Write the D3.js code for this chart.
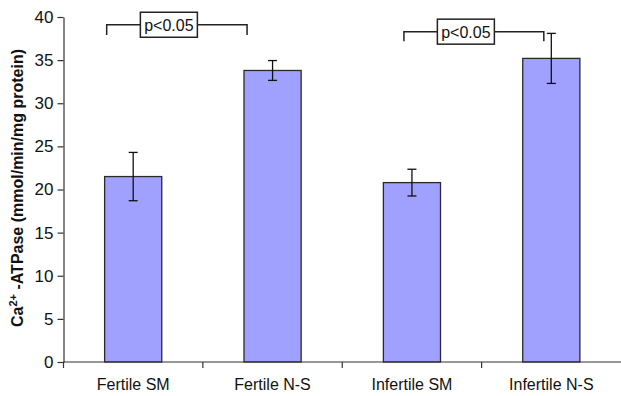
<!DOCTYPE html>
<html>
<head>
<meta charset="utf-8">
<script src="https://cdn.jsdelivr.net/npm/d3@7"></script>
<style>
  html, body { margin: 0; padding: 0; background: #fff; }
  svg { display: block; font-family: "Liberation Sans", Arial, Helvetica, sans-serif; }
</style>
</head>
<body>
<svg id="chart" width="621" height="396"></svg>
<script>
// ---- data ----
const categories = ["Fertile SM", "Fertile N-S", "Infertile SM", "Infertile N-S"];
const means = [21.5, 33.8, 20.8, 35.2];
const errors = [2.8, 1.15, 1.55, 2.9];
const yTicks = [0, 5, 10, 15, 20, 25, 30, 35, 40];
const sigLabels = ["p<0.05", "p<0.05"];
const sigFrom = [0, 2];
const sigTo = [1, 3];
const sigTop = [39.1, 38.3];
const sigLeg = [37.9, 37.2];

(function () {
// ---- layout ----
const mLeft = 63.5, mRight = 621, mTop = 17, mBottom = 362;
const svg = d3.select("#chart");

const y = d3.scaleLinear().domain([0, 40]).range([mBottom, mTop]);
const x = d3.scaleBand().domain(categories).range([mLeft, mRight]).padding(0);
const barW = x.bandwidth() * 0.41;
const cx = d => x(d) + x.bandwidth() / 2;

const axisColor = "#333";

// bars
svg.append("g").selectAll("rect").data(categories).join("rect")
  .attr("x", d => cx(d) - barW / 2)
  .attr("y", (d, i) => y(means[i]))
  .attr("width", barW)
  .attr("height", (d, i) => y(0) - y(means[i]))
  .attr("fill", "#a0a0ff")
  .attr("stroke", "#2a2a2a")
  .attr("stroke-width", 1.3);

// error bars
const eb = svg.append("g").attr("stroke", "#111").attr("stroke-width", 1.3);
categories.forEach((c, i) => {
  const xc = cx(c), hi = y(means[i] + errors[i]), lo = y(means[i] - errors[i]);
  eb.append("line").attr("x1", xc).attr("x2", xc).attr("y1", hi).attr("y2", lo);
  eb.append("line").attr("x1", xc - 4.5).attr("x2", xc + 4.5).attr("y1", hi).attr("y2", hi);
  eb.append("line").attr("x1", xc - 4.5).attr("x2", xc + 4.5).attr("y1", lo).attr("y2", lo);
});

// y axis
const yAxis = svg.append("g")
  .attr("transform", `translate(${mLeft},0)`)
  .call(d3.axisLeft(y).tickValues(yTicks).tickSize(6).tickPadding(4).tickSizeOuter(0));
yAxis.select(".domain").attr("stroke", axisColor).attr("stroke-width", 1.2);
yAxis.selectAll(".tick line").attr("stroke", axisColor).attr("stroke-width", 1.2);
yAxis.selectAll(".tick text").attr("font-size", 17).attr("fill", "#111")
  .style("font-family", "'Liberation Sans', Arial, sans-serif");

// x axis: boundary ticks + centered labels
const xAxisG = svg.append("g").attr("transform", `translate(0,${mBottom})`);
xAxisG.append("line").attr("x1", mLeft).attr("x2", mRight).attr("y1", 0).attr("y2", 0)
  .attr("stroke", axisColor).attr("stroke-width", 1.2);
const bounds = categories.map(c => x(c));
xAxisG.selectAll("line.tk").data(bounds).join("line").attr("class", "tk")
  .attr("x1", d => d).attr("x2", d => d).attr("y1", 0).attr("y2", 6)
  .attr("stroke", axisColor).attr("stroke-width", 1.2);
xAxisG.selectAll("text").data(categories).join("text")
  .attr("x", d => cx(d)).attr("y", 28)
  .attr("text-anchor", "middle").attr("font-size", 16).attr("fill", "#111")
  .text(d => d);

// y label
const yl = svg.append("text")
  .attr("transform", `translate(23,188) rotate(-90)`)
  .attr("text-anchor", "middle").attr("font-size", 16).attr("font-weight", "bold").attr("fill", "#111");
yl.append("tspan").text("Ca");
yl.append("tspan").attr("dy", -6).attr("font-size", 11).text("2+");
yl.append("tspan").attr("dy", 6).text(" -ATPase (mmol/min/mg protein)");

// significance brackets
const sigOffsets = [[-26.5, -25.5], [-8, -7.5]];
sigLabels.forEach((lab, i) => {
  const x1 = cx(categories[sigFrom[i]]) + sigOffsets[i][0];
  const x2 = cx(categories[sigTo[i]]) + sigOffsets[i][1];
  const yt = y(sigTop[i]), yb = y(sigLeg[i]);
  const g = svg.append("g");
  g.append("path")
    .attr("d", `M${x1},${yb}V${yt}H${x2}V${yb}`)
    .attr("fill", "none").attr("stroke", "#222").attr("stroke-width", 1.5);
  const bxC = (x1 + x2) / 2 - 8;
  const bw = 57, bh = 25;
  g.append("rect").attr("x", bxC - bw / 2).attr("y", yt - bh / 2)
    .attr("width", bw).attr("height", bh)
    .attr("fill", "#fff").attr("stroke", "#222").attr("stroke-width", 1.5);
  g.append("text").attr("x", bxC).attr("y", yt + 6)
    .attr("text-anchor", "middle").attr("font-size", 16).attr("fill", "#111").text(lab);
});
})();
</script>
</body>
</html>
